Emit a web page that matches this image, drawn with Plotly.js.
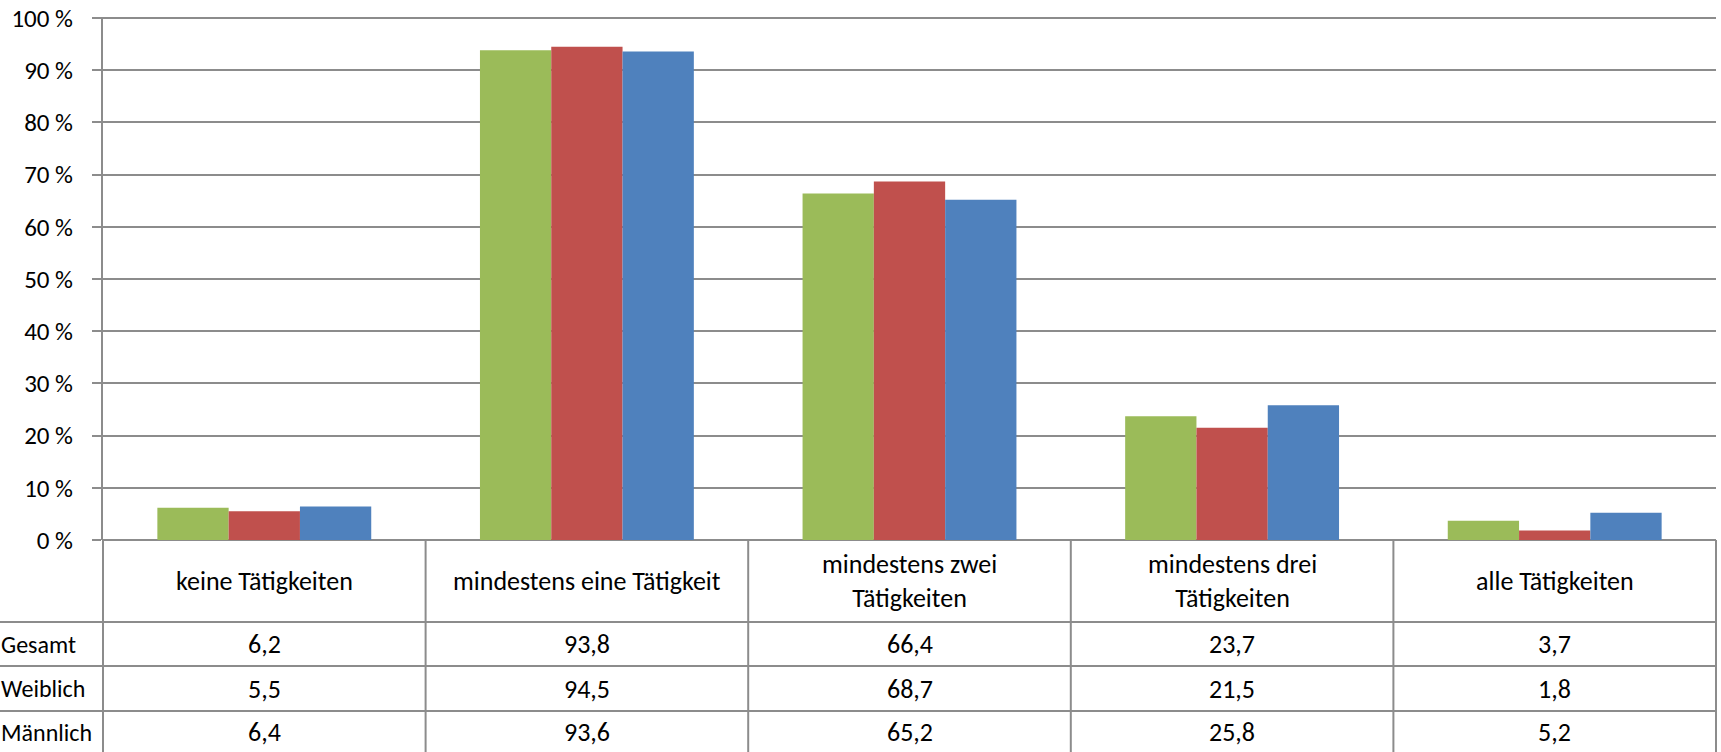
<!DOCTYPE html>
<html>
<head>
<meta charset="utf-8">
<script src="https://cdn.plot.ly/plotly-3.0.1.min.js"></script>
<style>
html,body{margin:0;padding:0;background:#fff;overflow:hidden;}
#chart{width:1721px;height:752px;}
</style>
</head>
<body>
<div id="chart"></div>
<script>
const categories = ['keine Tätigkeiten', 'mindestens eine Tätigkeit', 'mindestens zwei Tätigkeiten', 'mindestens drei Tätigkeiten', 'alle Tätigkeiten'];
const headerLabels = ['keine Tätigkeiten', 'mindestens eine Tätigkeit', 'mindestens zwei<br>Tätigkeiten', 'mindestens drei<br>Tätigkeiten', 'alle Tätigkeiten'];
const seriesNames = ['Gesamt', 'Weiblich', 'Männlich'];
const gesamt = [6.2, 93.8, 66.4, 23.7, 3.7];
const weiblich = [5.5, 94.5, 68.7, 21.5, 1.8];
const maennlich = [6.4, 93.6, 65.2, 25.8, 5.2];
const yTicks = [0, 10, 20, 30, 40, 50, 60, 70, 80, 90, 100];

const seriesValues = [gesamt, weiblich, maennlich];
const seriesColors = ['#9BBB59', '#C0504D', '#4F81BD'];

const W = 1721, H = 752;
const L = 103, R = 1716, T = 18, B = 540;
const pw = R - L, ph = B - T;
const px2x = X => (X - L) / pw;
const py2y = Y => (B - Y) / ph;

const FONT = 'Carlito, Calibri, Lato, sans-serif';
const GRID = '#8c8c8c';
const fs = 26;
const tfs = 25;
const rfs = 24;

const traces = seriesNames.map((name, k) => ({
  type: 'bar',
  name: name,
  x: categories,
  y: seriesValues[k],
  marker: {color: seriesColors[k], line: {width: 0}},
  hoverinfo: 'skip'
}));

const rowLines = [622, 666, 711];
const rowCenters = [644, 688.5, 732];
const shapes = [];
for (let i = 0; i <= categories.length; i++) {
  shapes.push({type: 'line', xref: 'paper', yref: 'paper',
    x0: i / categories.length, x1: i / categories.length,
    y0: 0, y1: py2y(H + 5), line: {color: GRID, width: 2}});
}
rowLines.forEach(Y => {
  shapes.push({type: 'line', xref: 'paper', yref: 'paper',
    x0: px2x(0), x1: 1, y0: py2y(Y), y1: py2y(Y), line: {color: GRID, width: 2}});
});
shapes.push({type: 'line', xref: 'paper', yref: 'paper', x0: px2x(94), x1: 1, y0: 1, y1: 1, line: {color: GRID, width: 2}});

const annotations = [];
const fmt = v => v.toFixed(1).replace('.', ',');
categories.forEach((c, i) => {
  annotations.push({xref: 'x', yref: 'paper', x: c, y: py2y(581), text: headerLabels[i],
    showarrow: false, xanchor: 'center', yanchor: 'middle', align: 'center',
    font: {family: FONT, size: fs, color: '#000'}});
  seriesValues.forEach((vals, k) => {
    annotations.push({xref: 'x', yref: 'paper', x: c, y: py2y(rowCenters[k]), text: fmt(vals[i]),
      showarrow: false, xanchor: 'center', yanchor: 'middle',
      font: {family: FONT, size: fs, color: '#000'}});
  });
});
seriesNames.forEach((n, k) => {
  annotations.push({xref: 'paper', yref: 'paper', x: px2x(0), y: py2y(rowCenters[k]), text: n,
    showarrow: false, xanchor: 'left', yanchor: 'middle', borderpad: 0,
    font: {family: FONT, size: rfs, color: '#000'}});
});

const layout = {
  width: W, height: H, autosize: false,
  margin: {l: L, r: W - R, t: T, b: H - B, pad: 0},
  paper_bgcolor: '#fff', plot_bgcolor: '#fff',
  showlegend: false,
  barmode: 'group', bargap: 0.337, bargroupgap: 0,
  font: {family: FONT, size: fs, color: '#000'},
  xaxis: {type: 'category', showticklabels: false, ticks: '', showgrid: false, showline: false, zeroline: false, fixedrange: true},
  yaxis: {range: [0, 100], tickvals: yTicks, ticktext: yTicks.map(v => v + ' %'),
    showgrid: true, gridcolor: GRID, gridwidth: 2,
    zeroline: true, zerolinecolor: GRID, zerolinewidth: 2,
    showline: true, linecolor: GRID, linewidth: 2,
    ticks: 'outside', ticklen: 9, tickwidth: 2, tickcolor: GRID,
    ticklabelstandoff: 14,
    tickfont: {family: FONT, size: tfs, color: '#000'}, fixedrange: true},
  shapes: shapes,
  annotations: annotations
};

Plotly.newPlot('chart', traces, layout, {displayModeBar: false, staticPlot: true});
</script>
</body>
</html>
